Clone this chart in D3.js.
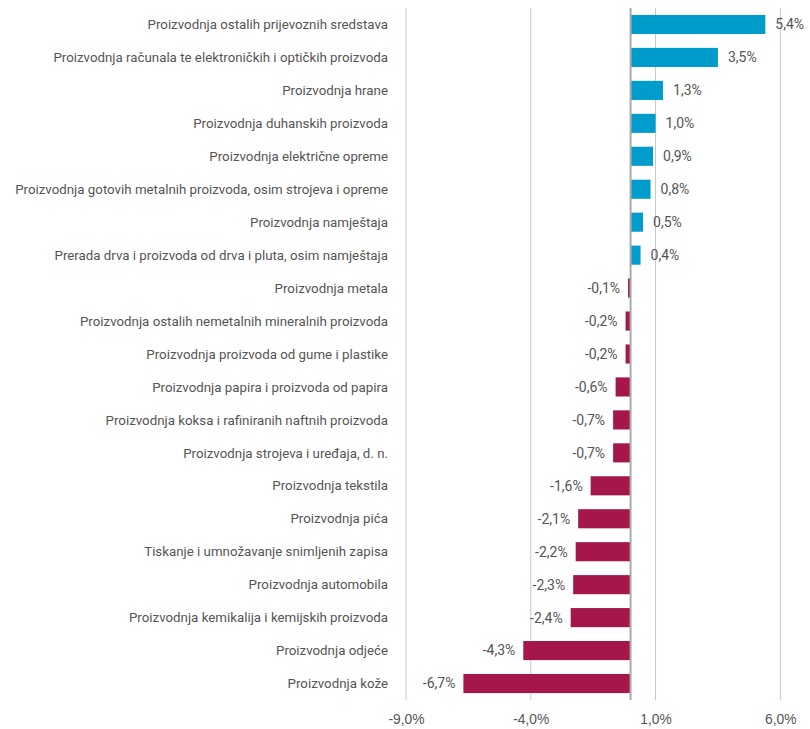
<!DOCTYPE html>
<html lang="hr">
<head>
<meta charset="UTF-8">
<title>Proizvodnja</title>
<script src="https://d3js.org/d3.v7.min.js"></script>
<style>
  body { margin: 0; background: #fff; }
  svg { display: block; font-family: Roboto, 'DejaVu Sans', sans-serif; }
  .cat { font-size: 13.3px; fill: #555; }
  .val { font-size: 14px; fill: #555; }
  .tick text { font-size: 13.8px; fill: #555; }
</style>
</head>
<body>
<svg width="810" height="729"></svg>
<script>
// categories, top to bottom
var categories = [
  "Proizvodnja ostalih prijevoznih sredstava",
  "Proizvodnja računala te elektroničkih i optičkih proizvoda",
  "Proizvodnja hrane",
  "Proizvodnja duhanskih proizvoda",
  "Proizvodnja električne opreme",
  "Proizvodnja gotovih metalnih proizvoda, osim strojeva i opreme",
  "Proizvodnja namještaja",
  "Prerada drva i proizvoda od drva i pluta, osim namještaja",
  "Proizvodnja metala",
  "Proizvodnja ostalih nemetalnih mineralnih proizvoda",
  "Proizvodnja proizvoda od gume i plastike",
  "Proizvodnja papira i proizvoda od papira",
  "Proizvodnja koksa i rafiniranih naftnih proizvoda",
  "Proizvodnja strojeva i uređaja, d. n.",
  "Proizvodnja tekstila",
  "Proizvodnja pića",
  "Tiskanje i umnožavanje snimljenih zapisa",
  "Proizvodnja automobila",
  "Proizvodnja kemikalija i kemijskih proizvoda",
  "Proizvodnja odjeće",
  "Proizvodnja kože"
];
var values = [5.4, 3.5, 1.3, 1.0, 0.9, 0.8, 0.5, 0.4, -0.1, -0.2, -0.2, -0.6, -0.7, -0.7,
              -1.6, -2.1, -2.2, -2.3, -2.4, -4.3, -6.7];
var tickValues = [-9, -4, 1, 6];

var data = categories.map(function(c, i) { return {name: c, value: values[i]}; });

var svg = d3.select("svg");
var plot = {left: 406, right: 780.3, top: 8, bottom: 700};

var x = d3.scaleLinear().domain([-9, 6]).range([plot.left, plot.right]);
var y = d3.scaleBand().domain(categories).range([plot.top, plot.bottom]).paddingInner(0.42).paddingOuter(0.21);

var fmt = function(v) { return d3.format(".1f")(v).replace(".", ",").replace("−", "-") + "%"; };

// gridlines
svg.append("g").selectAll("line")
    .data(tickValues)
    .enter().append("line")
    .attr("x1", function(d) { return x(d); })
    .attr("x2", function(d) { return x(d); })
    .attr("y1", plot.top)
    .attr("y2", plot.bottom)
    .attr("stroke", "#c8c8c8")
    .attr("stroke-width", 1);

// x axis labels
var xAxis = svg.append("g")
    .attr("transform", "translate(0," + plot.bottom + ")")
    .call(d3.axisBottom(x).tickValues(tickValues).tickSize(0).tickPadding(14).tickFormat(fmt));
xAxis.select(".domain").remove();

// bars
svg.append("g").selectAll("rect")
    .data(data)
    .enter().append("rect")
    .attr("x", function(d) { return x(Math.min(0, d.value)); })
    .attr("width", function(d) { return Math.abs(x(d.value) - x(0)); })
    .attr("y", function(d) { return y(d.name); })
    .attr("height", y.bandwidth())
    .attr("fill", function(d) { return d.value >= 0 ? "#009ccb" : "#a5174b"; });

// zero line
svg.append("line")
    .attr("x1", x(0)).attr("x2", x(0))
    .attr("y1", plot.top).attr("y2", plot.bottom)
    .attr("stroke", "#aaa")
    .attr("stroke-width", 2);

// value labels
svg.append("g").selectAll("text")
    .data(data)
    .enter().append("text")
    .attr("class", "val")
    .attr("x", function(d) { return d.value >= 0 ? x(d.value) + 10 : x(d.value) - 8; })
    .attr("y", function(d) { return y(d.name) + y.bandwidth() / 2; })
    .attr("dy", "0.35em")
    .attr("text-anchor", function(d) { return d.value >= 0 ? "start" : "end"; })
    .text(function(d) { return fmt(d.value); });

// category labels
svg.append("g").selectAll("text")
    .data(data)
    .enter().append("text")
    .attr("class", "cat")
    .attr("x", 388)
    .attr("y", function(d) { return y(d.name) + y.bandwidth() / 2; })
    .attr("dy", "0.35em")
    .attr("text-anchor", "end")
    .text(function(d) { return d.name; });
</script>
</body>
</html>
